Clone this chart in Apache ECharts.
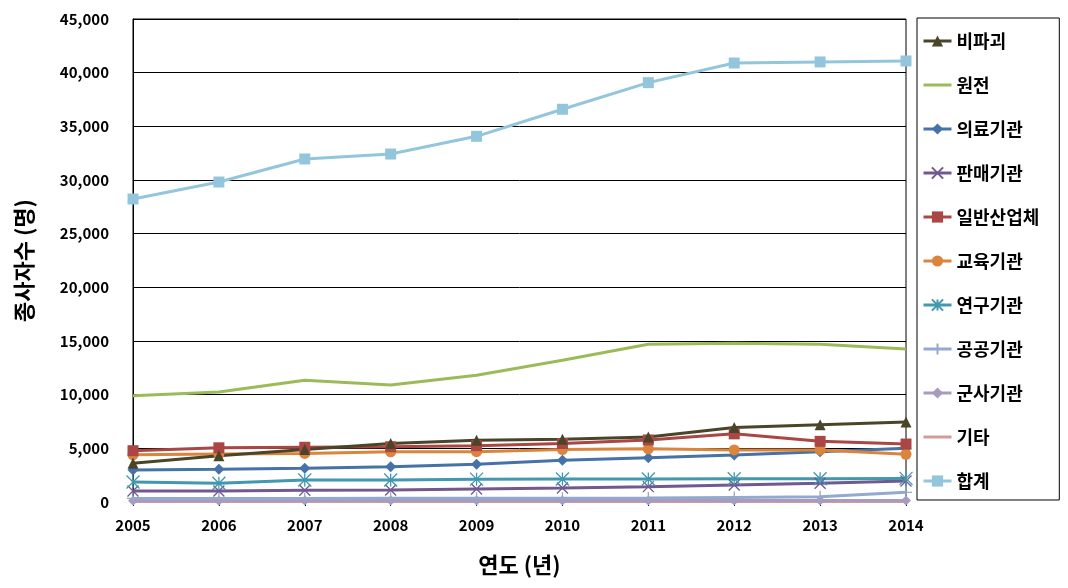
<!DOCTYPE html>
<html><head><meta charset="utf-8">
<script src="https://cdn.jsdelivr.net/npm/echarts@6/dist/echarts.min.js"></script>
<style>html,body{margin:0;padding:0;background:#fff}#c{width:1068px;height:588px}</style>
</head><body><div id="c"></div>
<script>
const years = ['2005','2006','2007','2008','2009','2010','2011','2012','2013','2014'];
const yTicks = [0,5000,10000,15000,20000,25000,30000,35000,40000,45000];
const ndt      = [3600,4300,4900,5450,5750,5850,6050,6950,7200,7450]; // 비파괴
const nuclear  = [9900,10250,11350,10900,11800,13200,14700,14800,14700,14250]; // 원전
const medical  = [2980,3040,3140,3290,3510,3880,4130,4380,4690,5000]; // 의료기관
const sales    = [1020,1020,1090,1120,1210,1300,1430,1580,1740,1960]; // 판매기관
const industry = [4780,5050,5100,5150,5250,5450,5780,6350,5650,5400]; // 일반산업체
const education= [4400,4470,4530,4680,4690,4880,4950,4850,4850,4450]; // 교육기관
const research = [1860,1740,2050,2050,2130,2140,2140,2170,2170,2200]; // 연구기관
const publicOrg= [330,330,330,340,350,360,380,420,480,900]; // 공공기관
const military = [120,120,130,130,140,140,150,150,150,150]; // 군사기관
const etc      = [40,40,40,40,40,40,40,40,40,40]; // 기타
const total    = [28230,29810,31960,32420,34070,36590,39070,40900,41000,41090]; // 합계

const FONT = '"Noto Sans CJK KR", "Malgun Gothic", sans-serif';
const chart = echarts.init(document.getElementById('c'));
const BLANK = 'path://M0,0L0.05,0L0,0.05Z M10,10L9.95,10L10,9.95Z';
function s(name, data, color, symbol, size, stroke){
  const o = {name, type:'line', data, symbol: symbol || BLANK, symbolSize: size || 10,
    showSymbol: !!symbol, lineStyle:{color, width:3}, itemStyle:{color}, z: 2};
  if (stroke){ o.itemStyle = {color, borderColor: color, borderWidth: 1.3}; }
  return o;
}
const X = 'path://M0,0L10,10M10,0L0,10';
const AST = 'path://M5,0L5,10M0,0L10,10M10,0L0,10';
const PLUS = 'path://M5,0L5,10M0,5L10,5';
chart.setOption({
  animation:false,
  textStyle:{fontFamily:FONT},
  grid:{left:133, right:162, top:19, bottom:86, show:true, borderColor:'#000', borderWidth:1},
  legend:{orient:'vertical', left:917, top:18, itemWidth:28, itemHeight:14, itemGap:26,
    padding:[14,20,10,5], borderColor:'#000', borderWidth:1,
    lineStyle:{width:3},
    textStyle:{fontSize:18, fontWeight:'bold', color:'#000', fontFamily:FONT},
    data:['비파괴','원전','의료기관','판매기관','일반산업체','교육기관','연구기관','공공기관','군사기관','기타','합계']},
  xAxis:{type:'category', data:years, boundaryGap:false,
    axisLine:{lineStyle:{color:'#000', width:1}},
    axisTick:{show:true, length:4, lineStyle:{color:'#000'}},
    axisLabel:{fontSize:15, fontWeight:'bold', color:'#000', margin:16, fontFamily:FONT},
    name:'연도 (년)', nameLocation:'middle', nameGap:52,
    nameTextStyle:{fontSize:22, fontWeight:'bold', color:'#000', fontFamily:FONT}},
  yAxis:{type:'value', min:0, max:45000, interval:5000,
    axisLine:{show:true, lineStyle:{color:'#000', width:1}},
    axisTick:{show:false},
    splitLine:{lineStyle:{color:'#000', width:1}},
    axisLabel:{fontSize:15, fontWeight:'bold', color:'#000', margin:24, fontFamily:FONT,
      formatter: v => yTicks.includes(v) ? v.toLocaleString('en-US') : ''},
    name:'종사자수 (명)', nameLocation:'middle', nameGap:98,
    nameTextStyle:{fontSize:22, fontWeight:'bold', color:'#000', fontFamily:FONT}},
  series:[
    s('기타', etc, '#D49A99'),
    s('군사기관', military, '#A99BBD', 'diamond', 10),
    s('공공기관', publicOrg, '#93A9CF', PLUS, 12, true),
    s('판매기관', sales, '#71588F', X, 11, true),
    s('연구기관', research, '#4198AF', AST, 13, true),
    s('의료기관', medical, '#4572A7', 'diamond', 11),
    s('교육기관', education, '#DB843D', 'circle', 11),
    s('일반산업체', industry, '#AA4643', 'rect', 11),
    s('비파괴', ndt, '#4A4528', 'triangle', 11),
    s('원전', nuclear, '#9BBB59'),
    s('합계', total, '#93C6DC', 'rect', 11)
  ]
});
</script></body></html>
